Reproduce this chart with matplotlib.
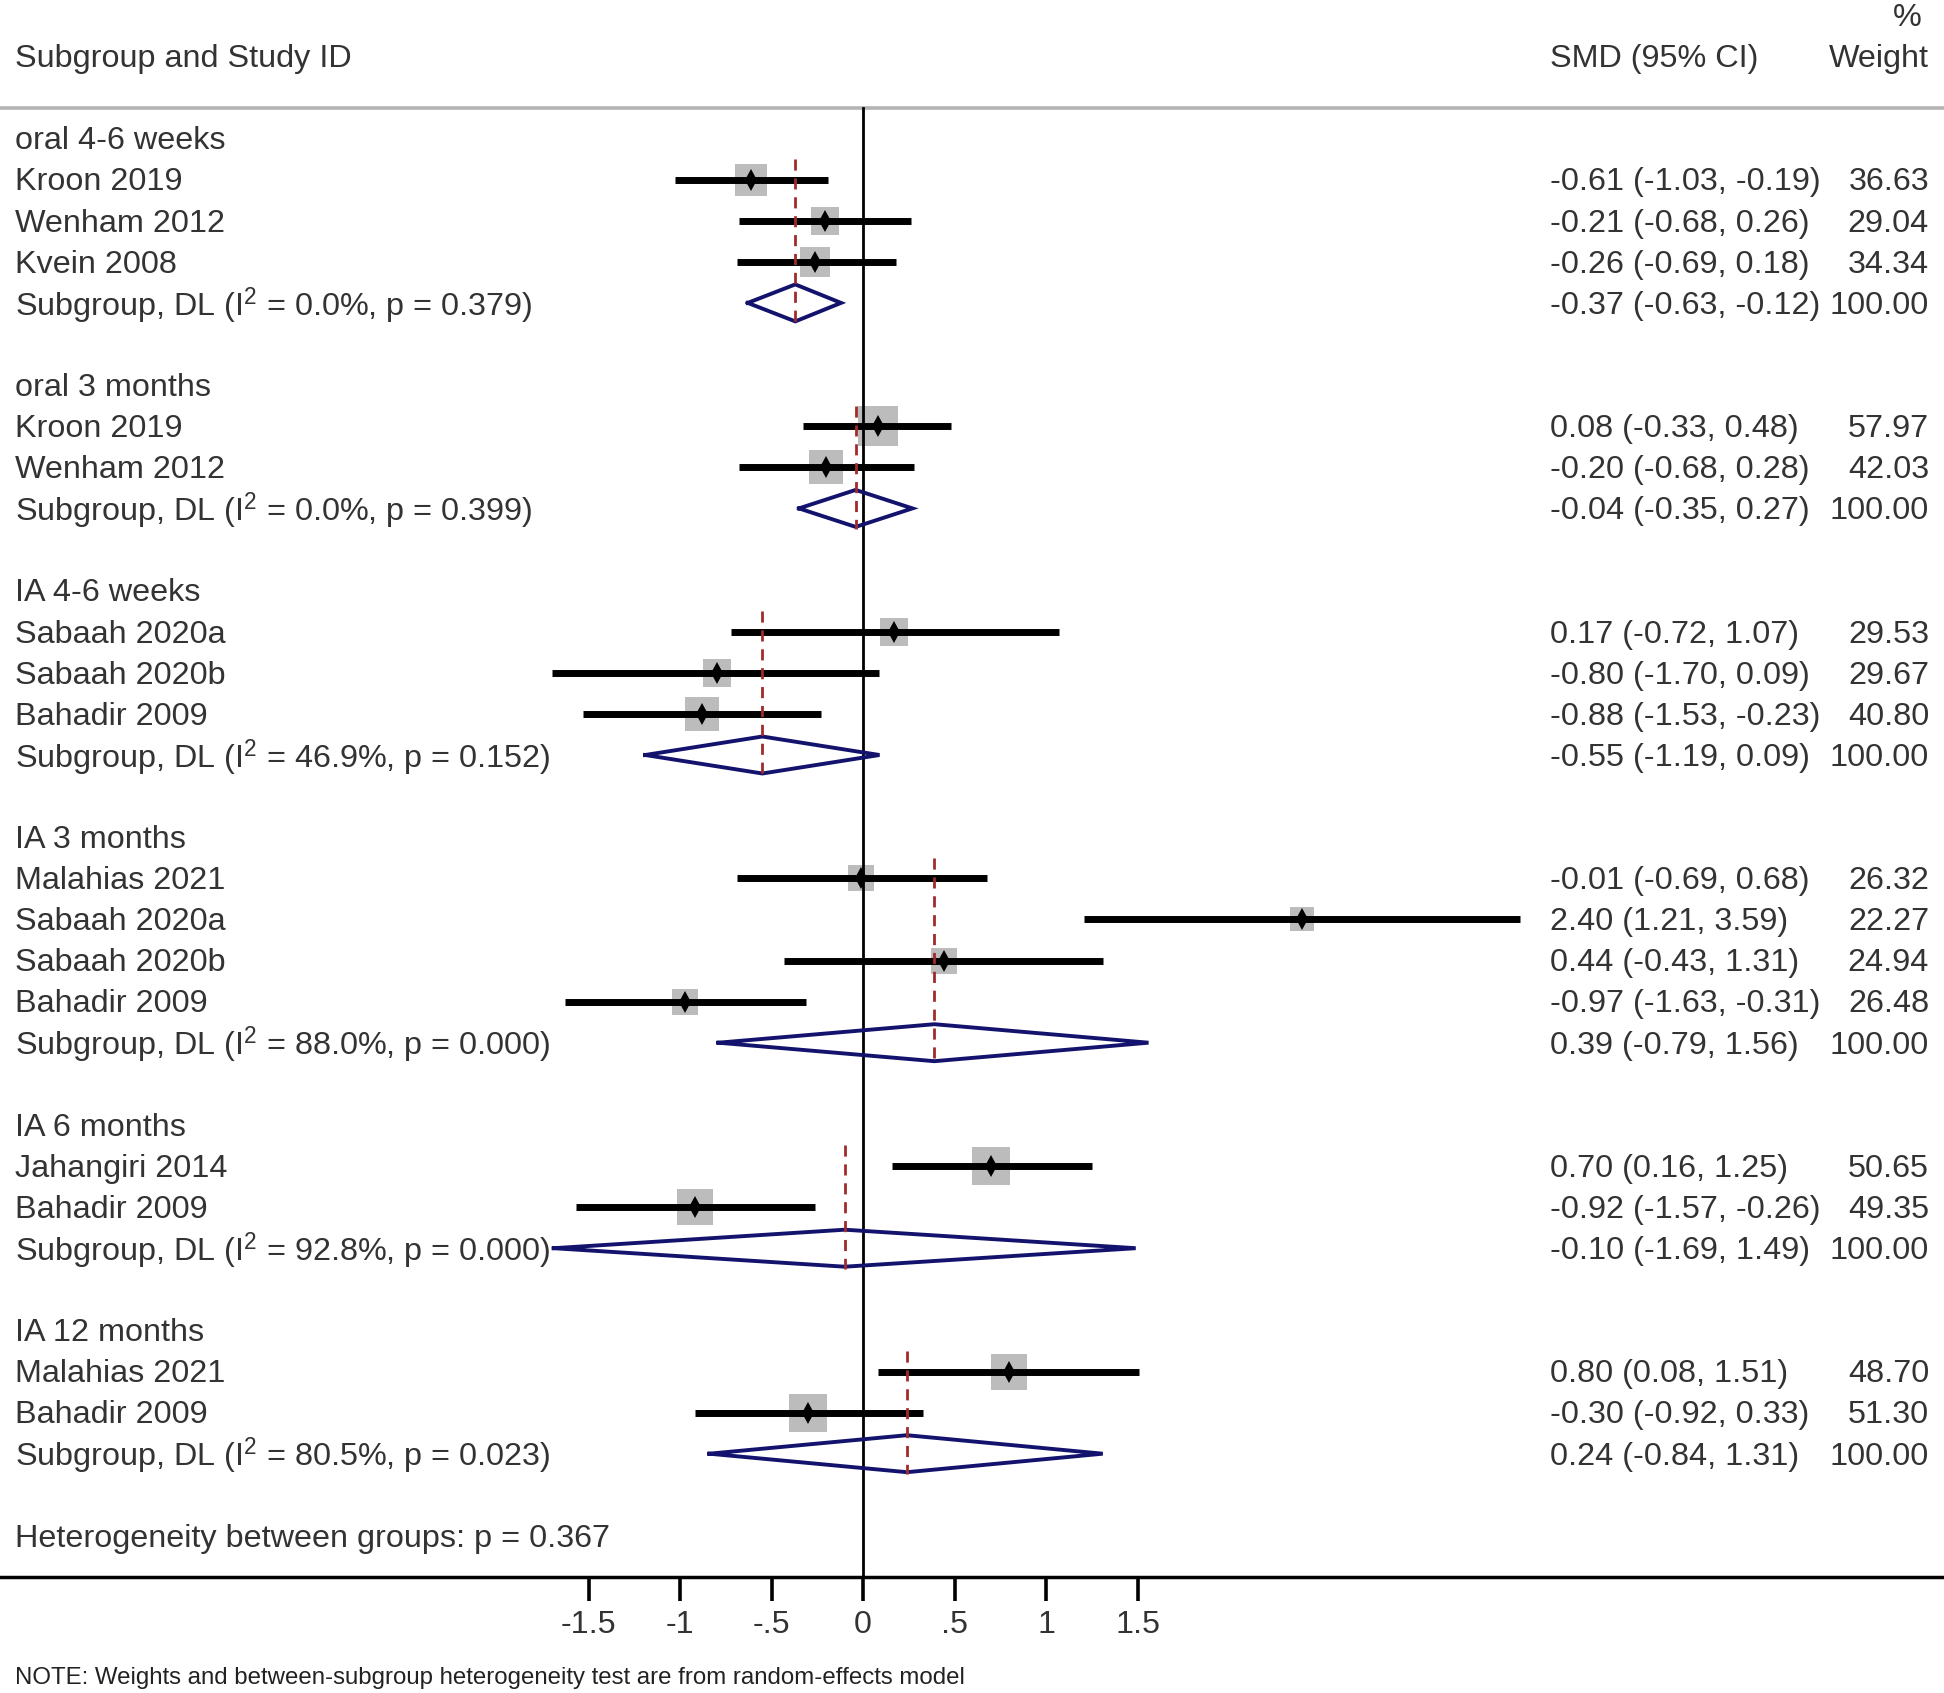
import matplotlib
matplotlib.use("Agg")
import matplotlib.pyplot as plt
import numpy as np

plt.rcParams['font.family'] = ['Liberation Sans', 'DejaVu Sans']
plt.rcParams['mathtext.fontset'] = 'custom'
plt.rcParams['mathtext.rm'] = 'Liberation Sans'
plt.rcParams['mathtext.it'] = 'Liberation Sans'

# ---------------- data ----------------
group_names = ["oral 4-6 weeks", "oral 3 months", "IA 4-6 weeks",
               "IA 3 months", "IA 6 months", "IA 12 months"]
study_names = [
    ["Kroon 2019", "Wenham 2012", "Kvein 2008"],
    ["Kroon 2019", "Wenham 2012"],
    ["Sabaah 2020a", "Sabaah 2020b", "Bahadir 2009"],
    ["Malahias 2021", "Sabaah 2020a", "Sabaah 2020b", "Bahadir 2009"],
    ["Jahangiri 2014", "Bahadir 2009"],
    ["Malahias 2021", "Bahadir 2009"],
]
study_smd = [
    [-0.61, -0.21, -0.26],
    [0.08, -0.20],
    [0.17, -0.80, -0.88],
    [-0.01, 2.40, 0.44, -0.97],
    [0.70, -0.92],
    [0.80, -0.30],
]
study_lo = [
    [-1.03, -0.68, -0.69],
    [-0.33, -0.68],
    [-0.72, -1.70, -1.53],
    [-0.69, 1.21, -0.43, -1.63],
    [0.16, -1.57],
    [0.08, -0.92],
]
study_hi = [
    [-0.19, 0.26, 0.18],
    [0.48, 0.28],
    [1.07, 0.09, -0.23],
    [0.68, 3.59, 1.31, -0.31],
    [1.25, -0.26],
    [1.51, 0.33],
]
study_weight = [
    [36.63, 29.04, 34.34],
    [57.97, 42.03],
    [29.53, 29.67, 40.80],
    [26.32, 22.27, 24.94, 26.48],
    [50.65, 49.35],
    [48.70, 51.30],
]
sub_i2 = ["0.0", "0.0", "46.9", "88.0", "92.8", "80.5"]
sub_p = ["0.379", "0.399", "0.152", "0.000", "0.000", "0.023"]
sub_smd = [-0.37, -0.04, -0.55, 0.39, -0.10, 0.24]
sub_lo = [-0.63, -0.35, -1.19, -0.79, -1.69, -0.84]
sub_hi = [-0.12, 0.27, 0.09, 1.56, 1.49, 1.31]
between_p = "0.367"
xticks = [-1.5, -1, -0.5, 0, 0.5, 1, 1.5]
xtick_labels = ["-1.5", "-1", "-.5", "0", ".5", "1", "1.5"]

# ---------------- layout ----------------
W, H, DPI = 1944, 1693, 100
fig = plt.figure(figsize=(W / DPI, H / DPI), dpi=DPI)
axis_px = 1577          # y pixel of x-axis line (from top)
row0_px = 138.5
row_h = 41.1
zero_px = 863.0
unit_px = 183.0

ax = fig.add_axes([0, 1 - axis_px / H, 1, axis_px / H])
ax.set_xlim(-zero_px / unit_px, (W - zero_px) / unit_px)
ax.set_ylim((axis_px - row0_px) / row_h, -row0_px / row_h)
for s in ['top', 'left', 'right']:
    ax.spines[s].set_visible(False)
ax.spines['bottom'].set_linewidth(2.5)
ax.spines['bottom'].set_color('black')
ax.set_yticks([])
ax.set_xticks(xticks)
ax.set_xticklabels(xtick_labels)
ax.tick_params(axis='x', direction='out', length=17, width=2.6, pad=7,
               labelsize=23.2, labelcolor='#333333', color='black')

tc = '#333333'
fs = 23.3
tdy = 0.07   # small downward shift so text looks centred on its row
trans = ax.get_yaxis_transform()
x_lab = 15 / W
x_smd = 1550 / W
x_wt = 1929 / W


def ypx2row(px):
    return (px - row0_px) / row_h


def txt(x, y, s, ha='left'):
    ax.text(x, y + tdy, s, transform=trans, ha=ha, va='center',
            fontsize=fs, color=tc)


# header
txt(x_lab, ypx2row(56), "Subgroup and Study ID")
txt(x_smd, ypx2row(56), "SMD (95% CI)")
txt(x_wt, ypx2row(56), "Weight", ha='right')
txt(1922 / W, ypx2row(15), "%", ha='right')

top_row = ypx2row(108)
ax.axhline(top_row, color='#b4b4b4', lw=2.6, zorder=1)
ax.plot([0, 0], [top_row, ax.get_ylim()[0]], color='black', lw=2.0, zorder=3)

box_color = '#bcbcbc'
diamond_color = '#13136e'
red = '#a12a2a'

row = 0
for g in range(len(group_names)):
    head = row
    txt(x_lab, row, group_names[g])
    row += 1
    for k in range(len(study_names[g])):
        m, lo, hi, w = study_smd[g][k], study_lo[g][k], study_hi[g][k], study_weight[g][k]
        side_px = 5.2 * np.sqrt(w)
        ax.plot([m], [row], marker='s', ms=side_px * 72 / DPI, mew=0,
                color=box_color, zorder=2, linestyle='none')
        ax.plot([lo, hi], [row, row], color='black', lw=5, solid_capstyle='butt',
                zorder=4)
        ax.plot([m], [row], marker='d', ms=11, mew=0, color='black',
                zorder=5, linestyle='none')
        txt(x_lab, row, study_names[g][k])
        txt(x_smd, row, f"{m:.2f} ({lo:.2f}, {hi:.2f})")
        txt(x_wt, row, f"{w:.2f}", ha='right')
        row += 1
    # subgroup diamond
    m, lo, hi = sub_smd[g], sub_lo[g], sub_hi[g]
    hh = 0.45
    ax.plot([lo, m, hi, m, lo], [row, row - hh, row, row + hh, row],
            color=diamond_color, lw=2.8, zorder=6, solid_joinstyle='miter')
    ax.plot([m, m], [head + 0.5, row + 0.5], color=red, lw=2.0,
            linestyle=(0, (4.0, 2.8)), zorder=7)
    txt(x_lab, row, f"Subgroup, DL (I$^{{2}}$ = {sub_i2[g]}%, p = {sub_p[g]})")
    txt(x_smd, row, f"{m:.2f} ({lo:.2f}, {hi:.2f})")
    txt(x_wt, row, "100.00", ha='right')
    row += 2

txt(x_lab, row, f"Heterogeneity between groups: p = {between_p}")

fig.text(15 / W, 1 - 1678 / H,
         "NOTE: Weights and between-subgroup heterogeneity test are from random-effects model",
         ha='left', va='center', fontsize=17.3, color='#222222')

fig.savefig("out.png", dpi=DPI)
